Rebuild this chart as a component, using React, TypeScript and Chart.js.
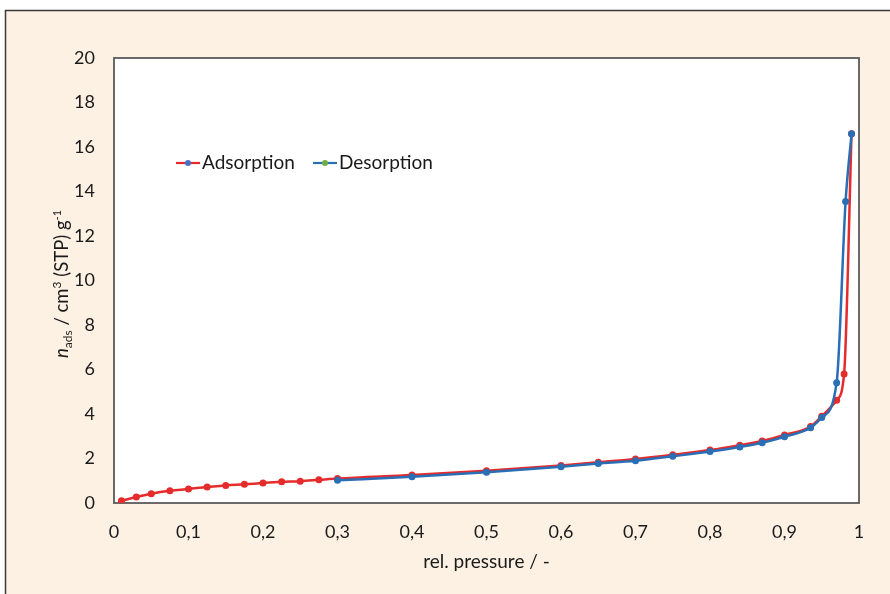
import React, { useEffect, useRef } from 'react';
import { Chart, registerables } from 'chart.js';

Chart.register(...registerables);

const W = 890;
const H = 594;

// Adsorption branch (rel. pressure, n_ads)
const adsX = [0.01, 0.03, 0.05, 0.075, 0.1, 0.125, 0.15, 0.175, 0.2, 0.225, 0.25, 0.275, 0.3, 0.4, 0.5, 0.6, 0.65, 0.7, 0.75, 0.8, 0.84, 0.87, 0.9, 0.935, 0.95, 0.97, 0.98, 0.99];
const adsY = [0.1, 0.27, 0.42, 0.55, 0.63, 0.72, 0.79, 0.84, 0.9, 0.95, 0.98, 1.04, 1.1, 1.26, 1.45, 1.69, 1.83, 1.98, 2.17, 2.38, 2.6, 2.79, 3.06, 3.44, 3.9, 4.62, 5.8, 16.6];

// Desorption branch
const desX = [0.99, 0.982, 0.97, 0.95, 0.935, 0.9, 0.87, 0.84, 0.8, 0.75, 0.7, 0.65, 0.6, 0.5, 0.4, 0.3];
const desY = [16.6, 13.55, 5.41, 3.84, 3.38, 2.98, 2.71, 2.52, 2.31, 2.1, 1.9, 1.77, 1.63, 1.38, 1.18, 1.02];

const seriesNames = ['Adsorption', 'Desorption'];
const lineColors = ['#E52B2B', '#2A6EB5'];
const legendDotColors = ['#4472C4', '#70AD47'];

const xMin = 0, xMax = 1, xStep = 0.1;
const yMin = 0, yMax = 20, yStep = 2;

const xTitle = 'rel. pressure / -';

const FONT = 'Lato, "Open Sans", sans-serif';
const TEXT = '#1a1a1a';

const decorPlugin = {
  id: 'decor',
  beforeDraw(chart: any) {
    const { ctx, chartArea: a } = chart;
    ctx.save();
    ctx.fillStyle = '#ffffff';
    ctx.fillRect(0, 0, W, H);
    ctx.fillStyle = '#FDF1E4';
    ctx.fillRect(5, 10, W, H);
    ctx.strokeStyle = '#3a3a3a';
    ctx.lineWidth = 1.5;
    ctx.strokeRect(5.5, 10.5, W + 20, H + 20);
    ctx.fillStyle = '#ffffff';
    ctx.fillRect(a.left, a.top, a.right - a.left, a.bottom - a.top);
    ctx.restore();
  },
  beforeDatasetsDraw(chart: any) {
    const { ctx, chartArea: a } = chart;
    ctx.save();
    ctx.strokeStyle = '#5a5a5a';
    ctx.lineWidth = 1.8;
    ctx.strokeRect(a.left, a.top, a.right - a.left, a.bottom - a.top);
    ctx.restore();
  },
  afterDraw(chart: any) {
    const { ctx, chartArea: a } = chart;
    ctx.save();
    // x title
    ctx.fillStyle = TEXT;
    ctx.font = `19px ${FONT}`;
    ctx.textAlign = 'center';
    ctx.textBaseline = 'middle';
    ctx.fillText(xTitle, (a.left + a.right) / 2, 562);

    // y title with italic n, subscript and superscripts
    const parts = [
      { t: 'n', f: `italic 18.5px ${FONT}`, dy: 0 },
      { t: 'ads', f: `12px ${FONT}`, dy: 4 },
      { t: ' / cm', f: `18.5px ${FONT}`, dy: 0 },
      { t: '3', f: `12px ${FONT}`, dy: -7.5 },
      { t: ' (STP) g', f: `18.5px ${FONT}`, dy: 0 },
      { t: '-1', f: `11px ${FONT}`, dy: -7.5 },
    ];
    let total = 0;
    const widths = parts.map((p) => {
      ctx.font = p.f;
      const w = ctx.measureText(p.t).width;
      total += w;
      return w;
    });
    ctx.translate(68, 284);
    ctx.rotate(-Math.PI / 2);
    ctx.textAlign = 'left';
    ctx.textBaseline = 'alphabetic';
    let x = -total / 2;
    parts.forEach((p, i) => {
      ctx.font = p.f;
      ctx.fillText(p.t, x, p.dy);
      x += widths[i];
    });
    ctx.restore();

    // legend
    ctx.save();
    const legendPos = [176, 313];
    const ly = 163;
    ctx.font = `19px ${FONT}`;
    ctx.textBaseline = 'middle';
    ctx.textAlign = 'left';
    seriesNames.forEach((name, i) => {
      const lx = legendPos[i];
      ctx.strokeStyle = lineColors[i];
      ctx.lineWidth = 2.2;
      ctx.beginPath();
      ctx.moveTo(lx, ly);
      ctx.lineTo(lx + 24, ly);
      ctx.stroke();
      ctx.fillStyle = legendDotColors[i];
      ctx.beginPath();
      ctx.arc(lx + 12, ly, 3, 0, Math.PI * 2);
      ctx.fill();
      ctx.fillStyle = TEXT;
      ctx.fillText(name, lx + 26, ly);
    });
    ctx.restore();
  },
};

function fmtX(v: number) {
  if (Math.abs(v) < 1e-9) return '0';
  if (Math.abs(v - 1) < 1e-9) return '1';
  return v.toFixed(1).replace('.', ',');
}

export default function App() {
  const ref = useRef<HTMLCanvasElement | null>(null);

  useEffect(() => {
    if (!ref.current) return;
    const ads = adsX.map((x, i) => ({ x, y: adsY[i] }));
    const des = desX.map((x, i) => ({ x, y: desY[i] }));
    const chart = new Chart(ref.current, {
      type: 'line',
      data: {
        datasets: [
          {
            label: seriesNames[1],
            data: des,
            borderColor: lineColors[1],
            backgroundColor: lineColors[1],
            pointBackgroundColor: lineColors[1],
            pointBorderColor: lineColors[1],
            borderWidth: 2.5,
            pointRadius: 3.5,
            pointBorderWidth: 0,
            cubicInterpolationMode: 'monotone',
            fill: false,
          },
          {
            label: seriesNames[0],
            data: ads,
            borderColor: lineColors[0],
            backgroundColor: lineColors[0],
            pointBackgroundColor: lineColors[0],
            pointBorderColor: lineColors[0],
            borderWidth: 2.5,
            pointRadius: 3.5,
            pointBorderWidth: 0,
            cubicInterpolationMode: 'monotone',
            fill: false,
          },
        ],
      },
      options: {
        animation: false,
        responsive: false,
        maintainAspectRatio: false,
        layout: { padding: { left: 0, right: 31, top: 58, bottom: 0 } },
        plugins: {
          legend: { display: false },
          tooltip: { enabled: false },
        },
        scales: {
          x: {
            type: 'linear',
            min: xMin,
            max: xMax,
            afterFit: (s: any) => { s.height = 91; },
            grid: { display: false, drawTicks: false },
            border: { display: false },
            ticks: {
              stepSize: xStep,
              padding: 18,
              color: TEXT,
              font: { family: FONT, size: 18 },
              callback: (v: any) => fmtX(Number(v)),
              maxRotation: 0,
              autoSkip: false,
            },
          },
          y: {
            type: 'linear',
            min: yMin,
            max: yMax,
            afterFit: (s: any) => { s.width = 114; },
            grid: { display: false, drawTicks: false },
            border: { display: false },
            ticks: {
              stepSize: yStep,
              padding: 19,
              color: TEXT,
              font: { family: FONT, size: 18 },
            },
          },
        },
      },
      plugins: [decorPlugin],
    } as any);
    return () => chart.destroy();
  }, []);

  return (
    <div style={{ position: 'fixed', left: 0, top: 0, width: W, height: H, background: '#fff' }}>
      <canvas ref={ref} width={W} height={H} style={{ display: 'block', width: W, height: H }} />
    </div>
  );
}
